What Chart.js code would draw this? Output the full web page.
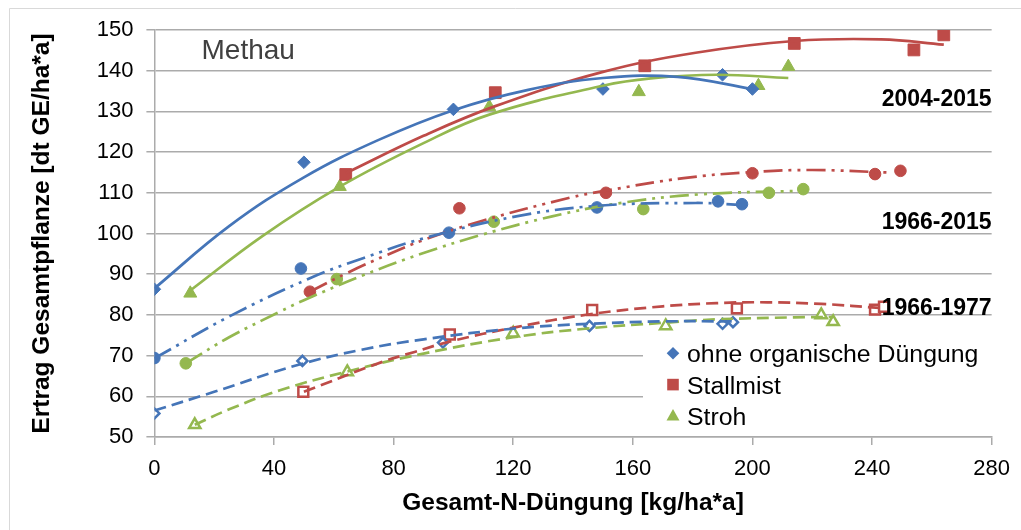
<!DOCTYPE html>
<html>
<head>
<meta charset="utf-8">
<script src="https://cdn.jsdelivr.net/npm/chart.js"></script>
<style>
  html, body { margin: 0; padding: 0; background: #fff; }
  #wrap { width: 1021px; height: 530px; }
</style>
</head>
<body>
<div id="wrap"><canvas id="ertrag"></canvas></div>
<script>
// MEASURED POINTS  [N-Düngung, Ertrag]
const ohne0415  = [[0, 86.3], [50, 117.5], [100, 130.5], [150, 135.5], [190, 139], [200, 135.5]];
const mist0415  = [[64, 114.5], [114, 134.6], [164, 141.2], [214, 146.7], [254, 145.1], [264, 148.8]];
const stroh0415 = [[12, 85.3], [62, 111.5], [112, 131.1], [162, 134.8], [202, 136.3], [212, 141]];

const ohne6615  = [[0, 69.4], [49, 91.4], [98.5, 100.2], [148, 106.4], [188.5, 107.9], [196.5, 107.2]];
const mist6615  = [[52, 85.7], [102, 106.2], [151, 110], [200, 114.8], [241, 114.6], [249.5, 115.4]];
const stroh6615 = [[10.5, 68.1], [61, 88.8], [113.5, 102.9], [163.5, 106], [205.5, 110], [217, 110.9]];

const ohne6677  = [[0, 55.8], [49.5, 68.7], [96.5, 73.2], [145.5, 77.3], [190, 77.8], [193.5, 78.2]];
const mist6677  = [[49.8, 61.1], [98.8, 75.2], [146.4, 81.2], [194.8, 81.6], [241, 81.3], [244, 82]];
const stroh6677 = [[13.5, 53], [64.5, 66], [120, 75.5], [171, 77.3], [223, 80], [227, 78.3]];

// TRENDLINES
const ohne0415Trend  = [[0, 86.5], [25, 101.8], [50, 113.8], [75, 123], [100, 130.3], [125, 135.3], [150, 138.2], [175, 138.5], [200, 135.5]];
const mist0415Trend  = [[64, 114.8], [90, 124], [114, 131.3], [150, 139.7], [181, 144.4], [214, 147.3], [243, 147.7], [264, 146.4]];
const stroh0415Trend = [[12, 86], [36, 99.3], [62, 111.5], [90, 122.2], [112, 129.2], [150, 136.3], [166, 138.1], [188, 139], [212, 138.2]];

const ohne6615Trend  = [[0, 69.3], [25, 79.6], [52, 89], [70, 94], [90, 98.8], [121, 104.2], [148, 106.8], [181, 107.5], [196.5, 107]];
const mist6615Trend  = [[52, 85.7], [65, 90.5], [78, 94.8], [90, 98.4], [110, 103.2], [139, 108.8], [150, 110.4], [177, 113.6], [200, 115.1], [220, 115.6], [245, 115]];
const stroh6615Trend = [[10.5, 68.1], [25, 74.5], [42, 80.8], [50, 83.6], [70, 89.8], [90, 95.2], [110, 99.8], [133, 104.2], [155, 107.4], [182, 109.6], [217, 110.5]];

const ohne6677Trend  = [[0, 56.5], [20, 61.1], [47, 67.5], [69, 71.4], [90, 74], [121, 76.7], [145, 77.8], [170, 78.4], [193.5, 78.4]];
const mist6677Trend  = [[50, 61.1], [76, 68.4], [87, 70.9], [99, 73.5], [121, 77], [145, 80.1], [170, 82.1], [188, 82.9], [205, 83.1], [223, 82.7], [243, 81.7]];
const stroh6677Trend = [[13.5, 53], [25, 56.8], [42, 61.5], [64, 66], [90, 70.5], [120, 74.5], [144, 76.6], [171, 78.1], [188, 78.9], [214, 79.4], [227, 79.5]];

const legendLabels = ['ohne organische Düngung', 'Stallmist', 'Stroh'];
const periodLabels = ['2004-2015', '1966-2015', '1966-1977'];
const periodY = [105.5, 229, 315];

const blue = '#4575B8', red = '#BE4B48', green = '#94B84F';
const gridGrey = '#ABABAB';
const FONT = "'Liberation Sans', Arial, sans-serif";

Chart.defaults.font.family = FONT;
Chart.defaults.color = '#000';

const toXY = arr => arr.map(p => ({x: p[0], y: p[1]}));

function markerSet(data, color, style, radius, hollow) {
    return {
        data: toXY(data),
        showLine: false,
        pointStyle: style,
        pointRadius: radius,
        pointBackgroundColor: hollow ? '#fff' : color,
        pointBorderColor: color,
        pointBorderWidth: hollow ? 2.5 : 1,
        order: 2
    };
}

function trendSet(data, color, dash) {
    return {
        data: toXY(data),
        showLine: true,
        borderColor: color,
        borderWidth: 2.7,
        borderDash: dash,
        pointRadius: 0,
        tension: 0.4,
        fill: false,
        order: 1
    };
}

const solid = [];
const dashDotDot = [19, 6, 3, 6, 3, 6];
const dashed = [12, 6];

// custom drawing: frame, legend box, labels
const decor = {
    id: 'decor',
    beforeDraw(chart) {
        const ctx = chart.ctx;
        ctx.save();
        ctx.fillStyle = '#fff';
        ctx.fillRect(0, 0, chart.width, chart.height);
        ctx.strokeStyle = '#D9D9D9';
        ctx.lineWidth = 1;
        ctx.beginPath();
        ctx.moveTo(9.5, chart.height);
        ctx.lineTo(9.5, 8.5);
        ctx.lineTo(chart.width, 8.5);
        ctx.stroke();
        ctx.restore();
    },
    beforeDatasetsDraw(chart) {
        const ctx = chart.ctx;
        ctx.save();
        ctx.fillStyle = '#fff';
        ctx.fillRect(643, 337, 360, 94);
        ctx.restore();
    },
    afterDraw(chart) {
        const ctx = chart.ctx;
        ctx.save();
        // site name
        ctx.font = '28px ' + FONT;
        ctx.fillStyle = '#404040';
        ctx.textAlign = 'left';
        ctx.textBaseline = 'alphabetic';
        ctx.fillText('Methau', 201.5, 58.5);

        // period labels
        ctx.font = 'bold 23px ' + FONT;
        ctx.fillStyle = '#000';
        ctx.textAlign = 'right';
        periodLabels.forEach((t, i) => ctx.fillText(t, chart.chartArea.right, periodY[i]));

        // legend
        const colors = [blue, red, green];
        const mx = 673;
        ctx.textAlign = 'left';
        ctx.font = '23px ' + FONT;
        legendLabels.forEach((t, i) => {
            const base = 362.3 + i * 31.3;
            const cy = base - 9;
            ctx.fillStyle = colors[i];
            ctx.beginPath();
            if (i === 0) {
                ctx.moveTo(mx - 6.3, cy); ctx.lineTo(mx, cy - 6.3);
                ctx.lineTo(mx + 6.3, cy); ctx.lineTo(mx, cy + 6.3);
            } else if (i === 1) {
                ctx.rect(mx - 5.8, cy - 5.8, 11.6, 11.6);
            } else {
                ctx.moveTo(mx, cy - 7); ctx.lineTo(mx + 6.5, cy + 4.5); ctx.lineTo(mx - 6.5, cy + 4.5);
            }
            ctx.closePath();
            ctx.fill();
            ctx.fillStyle = '#000';
            ctx.save();
            ctx.translate(687, base);
            ctx.scale(1.08, 1);
            ctx.fillText(t, 0, 0);
            ctx.restore();
        });
        ctx.restore();
    }
};

new Chart(document.getElementById('ertrag'), {
    type: 'scatter',
    data: {
        datasets: [
            trendSet(ohne0415Trend, blue, solid),
            trendSet(mist0415Trend, red, solid),
            trendSet(stroh0415Trend, green, solid),
            trendSet(ohne6615Trend, blue, dashDotDot),
            trendSet(mist6615Trend, red, dashDotDot),
            trendSet(stroh6615Trend, green, dashDotDot),
            trendSet(ohne6677Trend, blue, dashed),
            trendSet(mist6677Trend, red, dashed),
            trendSet(stroh6677Trend, green, dashed),
            markerSet(ohne0415, blue, 'rectRot', 6.3, false),
            markerSet(mist0415, red, 'rect', 8.3, false),
            markerSet(stroh0415, green, 'triangle', 7.5, false),
            markerSet(ohne6615, blue, 'circle', 5.8, false),
            markerSet(mist6615, red, 'circle', 5.8, false),
            markerSet(stroh6615, green, 'circle', 5.8, false),
            markerSet(ohne6677, blue, 'rectRot', 5, true),
            markerSet(mist6677, red, 'rect', 7, true),
            markerSet(stroh6677, green, 'triangle', 6.5, true)
        ]
    },
    options: {
        responsive: true,
        maintainAspectRatio: false,
        animation: false,
        layout: { padding: { top: 30, right: 24, left: 0, bottom: 0 } },
        plugins: {
            legend: { display: false },
            tooltip: { enabled: false }
        },
        scales: {
            x: {
                type: 'linear',
                min: 0,
                max: 280,
                afterFit: s => { s.height = 93; },
                ticks: { stepSize: 40, padding: 11, font: { size: 22 }, color: '#000' },
                grid: { drawOnChartArea: false, drawTicks: true, tickLength: 8, tickColor: gridGrey, lineWidth: 1.5 },
                border: { color: gridGrey, width: 1.5 },
                title: {
                    display: true,
                    text: 'Gesamt-N-Düngung [kg/ha*a]',
                    font: { size: 24.5, weight: 'bold' },
                    color: '#000',
                    padding: { top: 0, bottom: 12 }
                }
            },
            y: {
                min: 50,
                max: 150,
                afterFit: s => { s.width = 154.4; },
                ticks: { stepSize: 10, padding: 13, font: { size: 22 }, color: '#000' },
                grid: { color: gridGrey, lineWidth: 1.5, drawTicks: true, tickLength: 8, tickColor: gridGrey },
                border: { color: gridGrey, width: 1.5 },
                title: {
                    display: true,
                    text: 'Ertrag Gesamtpflanze [dt GE/ha*a]',
                    font: { size: 24.5, weight: 'bold' },
                    color: '#000',
                    padding: { top: 27.6, bottom: 0 }
                }
            }
        }
    },
    plugins: [decor]
});
</script>
</body>
</html>
